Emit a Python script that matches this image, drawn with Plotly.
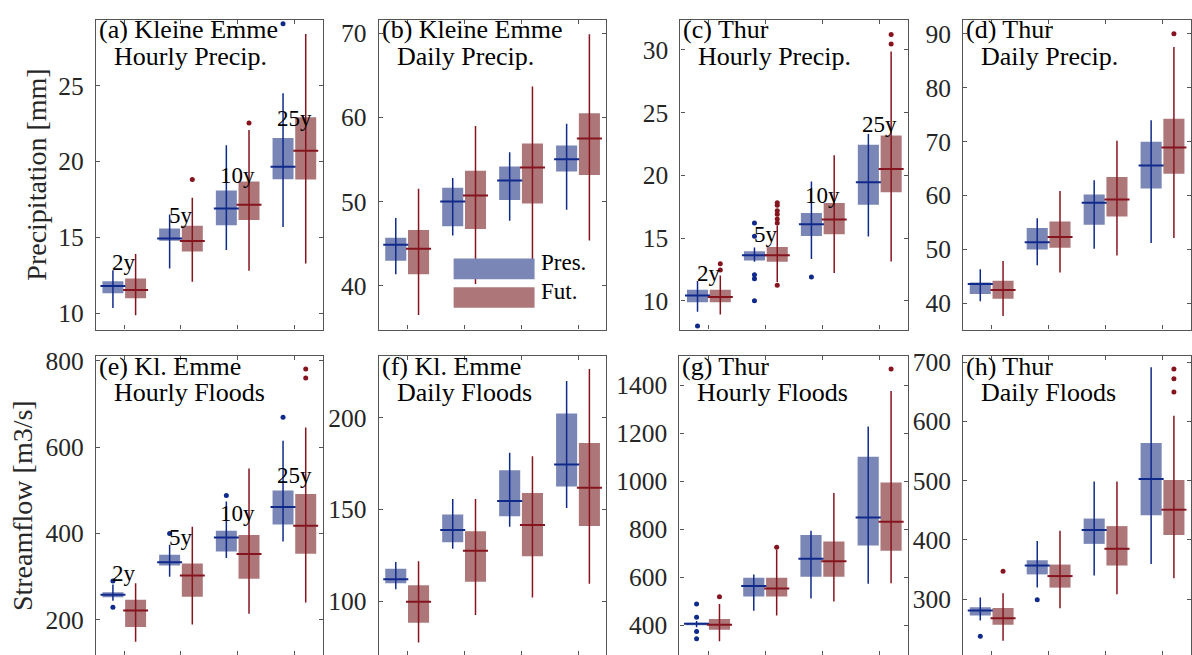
import plotly.graph_objects as go

# ---------------- data ----------------
periods = ["2y", "5y", "10y", "25y"]
cats = [1, 2, 3, 4]
# each row: [lower whisker, q1, median, q3, upper whisker] for one return period

a_pres = [[10.33, 11.30, 11.78, 12.10, 12.82], [12.93, 14.77, 14.92, 15.57, 16.5],
          [14.16, 15.79, 16.9, 18.09, 21.06], [15.68, 18.83, 19.65, 21.54, 24.49]]
a_fut = [[9.85, 10.98, 11.52, 12.28, 13.9], [12.06, 14.06, 14.75, 15.75, 17.6],
         [12.78, 16.14, 17.14, 18.68, 22.08], [13.27, 18.8, 20.71, 22.92, 28.4]]
a_pres_out = [[], [], [], [29.09]]
a_fut_out = [[], [18.8], [22.54], []]

b_pres = [[41.37, 42.97, 44.88, 45.7, 48.05], [45.98, 47.07, 50.0, 51.64, 52.81],
          [47.73, 50.2, 52.5, 54.18, 55.86], [49.02, 53.59, 55.04, 56.68, 59.26]]
b_fut = [[36.52, 41.37, 44.41, 46.64, 51.52], [40.2, 46.76, 50.74, 53.67, 58.98],
         [42.58, 49.77, 54.06, 56.91, 63.67], [45.39, 53.16, 57.5, 60.51, 69.88]]
b_pres_out = [[], [], [], []]
b_fut_out = [[], [], [], []]

c_pres = [[9.11, 9.87, 10.42, 10.87, 11.57], [13.1, 13.2, 13.62, 13.95, 14.25],
          [13.33, 15.17, 16.09, 17.0, 19.5], [15.12, 17.66, 19.45, 22.44, 23.3]]
c_fut = [[8.9, 9.87, 10.29, 10.87, 12.0], [11.5, 13.1, 13.62, 14.28, 16.0],
         [12.2, 15.3, 16.48, 17.8, 21.6], [13.12, 18.64, 20.5, 23.18, 29.87]]
c_pres_out = [[7.98], [16.2, 15.15, 12.07, 11.75, 10.0], [11.89], []]
c_fut_out = [[12.45, 12.95], [17.82, 17.61, 17.17, 16.9, 16.51, 16.2, 11.24], [], [30.47, 31.23]]

d_pres = [[40.37, 41.71, 43.55, 43.85, 46.3], [47.03, 49.96, 51.31, 53.94, 55.77],
          [50.09, 54.55, 58.64, 60.17, 62.8], [51.19, 61.27, 65.55, 69.95, 73.98]]
d_fut = [[37.62, 40.8, 42.44, 44.16, 47.82], [45.68, 50.27, 52.29, 55.16, 60.84],
         [48.86, 56.08, 59.25, 63.41, 70.13], [52.1, 64.02, 68.91, 74.23, 87.56]]
d_pres_out = [[], [], [], []]
d_fut_out = [[], [], [], [90.0]]

e_pres = [[244, 252, 258, 264, 282], [299.7, 325.6, 333.3, 350.8, 373.6],
          [343.2, 358.4, 390.4, 406.4, 474.1], [381.2, 420.8, 461.2, 499.2, 615]]
e_fut = [[149, 183.2, 221.3, 246.4, 284.5], [189.3, 253.3, 302.8, 330.2, 415.5],
         [213.7, 295.2, 352.3, 396.5, 550.3], [240.3, 353.1, 417.7, 491.5, 645.5]]
e_pres_out = [[290, 229], [400], [488], [669]]
e_fut_out = [[], [], [], [760, 781]]

f_pres = [[106.45, 109.7, 111.83, 117.56, 121.3], [128.5, 132.08, 138.7, 147.13, 155.7],
          [140.5, 146.2, 154.5, 171.3, 180.8], [150.7, 162.5, 174.4, 202.3, 219.9]]
f_fut = [[77.4, 88.17, 99.64, 108.6, 121.7], [92.47, 110.57, 127.4, 138.0, 155.7],
         [102.0, 124.37, 141.4, 158.96, 179.0], [109.5, 140.9, 161.8, 186.2, 226.5]]
f_pres_out = [[], [], [], []]
f_fut_out = [[], [], [], []]

g_pres = [[392, 401, 407, 411, 418], [461.6, 520.5, 564.4, 598.6, 612.3],
          [512.3, 602.7, 678.1, 776.7, 794.5], [574, 732.9, 849.3, 1102.7, 1228.8]]
g_fut = [[334, 382, 403, 427, 489], [441.1, 520.5, 553.4, 598.6, 715],
         [500, 602.7, 667.1, 749.3, 952], [575.3, 711, 831.5, 995.9, 1376.7]]
g_pres_out = [[489, 434, 375, 345], [], [], []]
g_fut_out = [[520], [726], [], [1468.5]]

h_pres = [[263.9, 272.2, 280.6, 286.1, 302.8], [319.4, 341.7, 356.7, 365.6, 398.3],
          [340, 393.3, 416.7, 436.1, 498.9], [359.4, 441.7, 502.8, 563.9, 691.7]]
h_fut = [[229.4, 256.7, 267.8, 285, 310], [284.4, 319.4, 338.9, 358.3, 415.6],
         [308.3, 356.7, 385, 423.3, 498.9], [335, 408.3, 451.1, 501.1, 610]]
h_pres_out = [[237.2], [298.9], [], []]
h_fut_out = [[347.2], [], [], [650, 672.2, 688.9]]

# ---------------- style ----------------
W, H = 1192, 655
FONT = "Liberation Serif"
PRES_FILL = "#7a86b6"
FUT_FILL = "#ad777a"
PRES_LINE = "#102a8c"
FUT_LINE = "#86141e"
FRAME = "#555555"
TICKC = "#262626"


def fx(p):
    return p / W


def fy(p):
    return 1 - p / H


panels = [
    dict(pres=a_pres, fut=a_fut, po=a_pres_out, fo=a_fut_out, xpx=(96, 323), ypx=(11, 325),
         rng=[8.91, 29.34], ticks=[10, 15, 20, 25], title=("(a) Kleine Emme", "Hourly Precip."),
         labels=[12.86, 15.97, 18.6, 22.4]),
    dict(pres=b_pres, fut=b_fut, po=b_pres_out, fo=b_fut_out, xpx=(379, 607), ypx=(11, 325),
         rng=[34.8, 71.6], ticks=[40, 50, 60, 70], title=("(b) Kleine Emme", "Daily Precip."),
         labels=None),
    dict(pres=c_pres, fut=c_fut, po=c_pres_out, fo=c_fut_out, xpx=(681, 909), ypx=(11, 325),
         rng=[7.7, 32.4], ticks=[10, 15, 20, 25, 30], title=("(c) Thur", "Hourly Precip."),
         labels=[11.65, 14.72, 17.87, 23.46]),
    dict(pres=d_pres, fut=d_fut, po=d_pres_out, fo=d_fut_out, xpx=(964, 1192), ypx=(11, 325),
         rng=[35.1, 92.6], ticks=[40, 50, 60, 70, 80, 90], title=("(d) Thur", "Daily Precip."),
         labels=None),
    dict(pres=e_pres, fut=e_fut, po=e_pres_out, fo=e_fut_out, xpx=(96, 323), ypx=(352, 655),
         rng=[118.4, 810.7], ticks=[200, 400, 600, 800], title=("(e) Kl. Emme", "Hourly Floods"),
         labels=[292, 374, 429, 519]),
    dict(pres=f_pres, fut=f_fut, po=f_pres_out, fo=f_fut_out, xpx=(379, 607), ypx=(352, 655),
         rng=[70.6, 233.5], ticks=[100, 150, 200], title=("(f) Kl. Emme", "Daily Floods"),
         labels=None),
    dict(pres=g_pres, fut=g_fut, po=g_pres_out, fo=g_fut_out, xpx=(680, 909), ypx=(352, 655),
         rng=[276.8, 1522], ticks=[400, 600, 800, 1000, 1200, 1400], title=("(g) Thur", "Hourly Floods"),
         labels=None),
    dict(pres=h_pres, fut=h_fut, po=h_pres_out, fo=h_fut_out, xpx=(964, 1192), ypx=(352, 655),
         rng=[205.5, 710.5], ticks=[300, 400, 500, 600, 700], title=("(h) Thur", "Daily Floods"),
         labels=None),
]

fig = go.Figure()
layout = dict(
    width=W, height=H, margin=dict(l=0, r=0, t=0, b=0),
    paper_bgcolor="white", plot_bgcolor="white", barmode="overlay",
    showlegend=False, font=dict(family=FONT, color="black"),
)
annotations = []
shapes = []

BOX_W = 0.37
MED_HALF = 0.22
OFF = 0.2

for i, p in enumerate(panels, start=1):
    xs = "x" if i == 1 else f"x{i}"
    ys = "y" if i == 1 else f"y{i}"
    series = ((p["pres"], p["po"], -1, PRES_FILL, PRES_LINE),
              (p["fut"], p["fo"], 1, FUT_FILL, FUT_LINE))
    for stats, outs, sign, fill, line in series:
        pos = [c + sign * OFF for c in cats]
        fig.add_trace(go.Bar(
            x=pos, base=[s[1] for s in stats], y=[s[3] - s[1] for s in stats],
            width=BOX_W, marker=dict(color=fill, line=dict(width=0)),
            xaxis=xs, yaxis=ys, hoverinfo="skip"))
    for stats, outs, sign, fill, line in series:
        pos = [c + sign * OFF for c in cats]
        wx, wy, mx, my, ox, oy = [], [], [], [], [], []
        for xp, s, o in zip(pos, stats, outs):
            wx += [xp, xp, None]
            wy += [s[0], s[4], None]
            mx += [xp - MED_HALF, xp + MED_HALF, None]
            my += [s[2], s[2], None]
            ox += [xp] * len(o)
            oy += list(o)
        fig.add_trace(go.Scatter(x=wx, y=wy, mode="lines", line=dict(color=line, width=1.5),
                                 xaxis=xs, yaxis=ys, hoverinfo="skip"))
        fig.add_trace(go.Scatter(x=mx, y=my, mode="lines", line=dict(color=line, width=2),
                                 xaxis=xs, yaxis=ys, hoverinfo="skip"))
        if oy:
            fig.add_trace(go.Scatter(x=ox, y=oy, mode="markers",
                                     marker=dict(color=line, size=5),
                                     xaxis=xs, yaxis=ys, hoverinfo="skip"))

    x0, x1 = p["xpx"]
    y0, y1 = p["ypx"]
    axcommon = dict(showline=True, linecolor=FRAME, linewidth=1.3, mirror="all",
                    ticks="inside", ticklen=4, tickwidth=1, tickcolor=FRAME,
                    showgrid=False, zeroline=False, fixedrange=True)
    layout["xaxis" if i == 1 else f"xaxis{i}"] = dict(
        domain=[fx(x0), fx(x1)], range=[0.5, 4.5], anchor=ys,
        tickvals=cats, showticklabels=False, **axcommon)
    layout["yaxis" if i == 1 else f"yaxis{i}"] = dict(
        domain=[fy(y1), fy(y0)], range=p["rng"], anchor=xs,
        tickvals=p["ticks"], tickfont=dict(family=FONT, size=25.5, color=TICKC),
        ticklabelstandoff=6, **axcommon)

    # panel titles (two lines)
    t1, t2 = p["title"]
    annotations.append(dict(text=t1, xref="paper", yref="paper", x=fx(x0 + 1), y=fy(y0 + 10),
                            xanchor="left", yanchor="middle", showarrow=False,
                            font=dict(family=FONT, size=26, color="black")))
    annotations.append(dict(text=t2, xref="paper", yref="paper", x=fx(x0 + 16), y=fy(y0 + 37),
                            xanchor="left", yanchor="middle", showarrow=False,
                            font=dict(family=FONT, size=26, color="black")))
    if p["labels"]:
        for c, lab, yv in zip(cats, periods, p["labels"]):
            annotations.append(dict(text=lab, xref=xs, yref=ys, x=c, y=yv, yshift=7,
                                    xanchor="center", yanchor="middle", showarrow=False,
                                    font=dict(family=FONT, size=23, color="black")))

# y-axis titles
annotations.append(dict(text="Precipitation [mm]", xref="paper", yref="paper", x=fx(37), y=fy(168),
                        xanchor="center", yanchor="middle", textangle=-90, showarrow=False,
                        font=dict(family=FONT, size=28, color=TICKC)))
annotations.append(dict(text="Streamflow [m3/s]", xref="paper", yref="paper", x=fx(22), y=fy(503),
                        xanchor="center", yanchor="middle", textangle=-90, showarrow=False,
                        font=dict(family=FONT, size=28, color=TICKC)))

# legend in panel (b)
for (ty0, ty1), fill, txt in (((253, 274), PRES_FILL, "Pres."), ((282, 303), FUT_FILL, "Fut.")):
    shapes.append(dict(type="rect", xref="paper", yref="paper", x0=fx(454), x1=fx(535),
                       y0=fy(ty1), y1=fy(ty0), fillcolor=fill, line=dict(width=0), layer="above"))
    annotations.append(dict(text=txt, xref="paper", yref="paper", x=fx(539), y=fy((ty0 + ty1) / 2 - 6),
                            xanchor="left", yanchor="middle", showarrow=False,
                            font=dict(family=FONT, size=23, color="black")))

layout["annotations"] = annotations
layout["shapes"] = shapes
fig.update_layout(**layout)
fig.write_html("out.html")
